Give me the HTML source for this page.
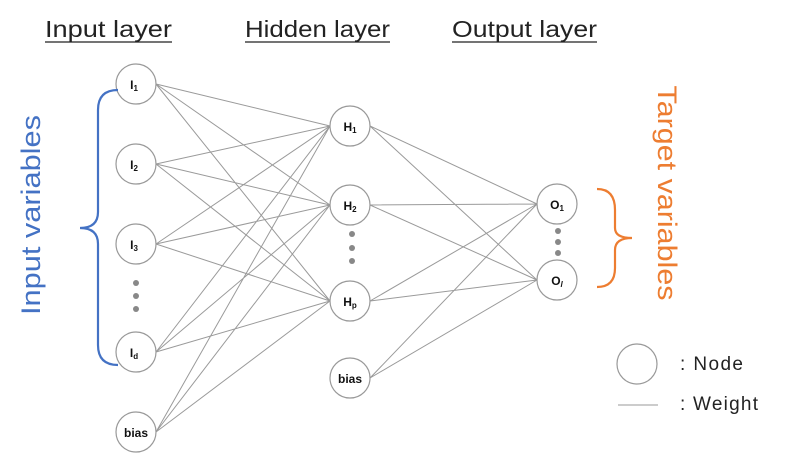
<!DOCTYPE html>
<html><head><style>
body{margin:0;background:#fff;}
svg text{font-family:"Liberation Sans",sans-serif;}
</style></head><body>
<svg width="787" height="465" viewBox="0 0 787 465" xmlns="http://www.w3.org/2000/svg">
<g font-size="23" fill="#222">
<text x="45" y="37" textLength="127" lengthAdjust="spacingAndGlyphs">Input layer</text>
<text x="245" y="37" textLength="145" lengthAdjust="spacingAndGlyphs">Hidden layer</text>
<text x="452" y="37" textLength="145" lengthAdjust="spacingAndGlyphs">Output layer</text>
</g>
<line x1="45" y1="42" x2="172" y2="42" stroke="#222" stroke-width="1.3"/>
<line x1="245" y1="42" x2="390" y2="42" stroke="#222" stroke-width="1.3"/>
<line x1="452" y1="42" x2="597" y2="42" stroke="#222" stroke-width="1.3"/>
<g stroke="#9a9a9a" stroke-width="1">
<path d="M156 84L330 126M156 84L330 205M156 84L330 301
M156 164L330 126M156 164L330 205M156 164L330 301
M156 244L330 126M156 244L330 205M156 244L330 301
M156 352L330 126M156 352L330 205M156 352L330 301
M156 432L330 126M156 432L330 205M156 432L330 301
M370 126L537 204M370 126L537 280
M370 205L537 204M370 205L537 280
M370 301L537 204M370 301L537 280
M370 378L537 204M370 378L537 280"/>
<line x1="618" y1="405" x2="658" y2="405"/>
</g>
<g fill="#fff" stroke="#999" stroke-width="1.2">
<circle cx="136" cy="84" r="20"/><circle cx="136" cy="164" r="20"/><circle cx="136" cy="244" r="20"/><circle cx="136" cy="352" r="20"/><circle cx="136" cy="432" r="20"/>
<circle cx="350" cy="126" r="20"/><circle cx="350" cy="205" r="20"/><circle cx="350" cy="301" r="20"/><circle cx="350" cy="378" r="20"/>
<circle cx="557" cy="204" r="20"/><circle cx="557" cy="280" r="20"/>
<circle cx="637" cy="364" r="20"/>
</g>
<g fill="#888">
<circle cx="136" cy="283" r="3"/><circle cx="136" cy="296" r="3"/><circle cx="136" cy="309" r="3"/>
<circle cx="352" cy="234" r="3"/><circle cx="352" cy="248" r="3"/><circle cx="352" cy="261" r="3"/>
<circle cx="558" cy="231" r="3"/><circle cx="558" cy="242" r="3"/><circle cx="558" cy="253" r="3"/>
</g>
<g font-size="12" font-weight="bold" fill="#111" text-anchor="middle">
<text x="134" y="89">I<tspan font-size="8" dy="2">1</tspan></text>
<text x="134" y="169">I<tspan font-size="8" dy="2">2</tspan></text>
<text x="134" y="249">I<tspan font-size="8" dy="2">3</tspan></text>
<text x="134" y="357">I<tspan font-size="8" dy="2">d</tspan></text>
<text x="136" y="437">bias</text>
<text x="350" y="131">H<tspan font-size="8" dy="2">1</tspan></text>
<text x="350" y="210">H<tspan font-size="8" dy="2">2</tspan></text>
<text x="350" y="306">H<tspan font-size="8" dy="2">p</tspan></text>
<text x="350" y="383">bias</text>
<text x="557" y="209">O<tspan font-size="8" dy="2">1</tspan></text>
<text x="557" y="285">O<tspan font-size="8" dy="2" font-style="italic">l</tspan></text>
</g>
<path d="M118 90 Q98 90 98 110 L98 212 Q98 228 80 228 Q98 228 98 244 L98 345 Q98 365 118 365" fill="none" stroke="#4472C4" stroke-width="2.2"/>
<text transform="translate(40,215) rotate(-90)" font-size="27" fill="#4472C4" text-anchor="middle" textLength="200" lengthAdjust="spacingAndGlyphs">Input variables</text>
<path d="M597 189 Q615 189 615 210 L615 228 Q615 238 632 238 Q615 238 615 250 L615 268 Q615 287 597 287" fill="none" stroke="#ED7D31" stroke-width="2.2"/>
<text transform="translate(658,193) rotate(90)" font-size="27" fill="#ED7D31" text-anchor="middle" textLength="215" lengthAdjust="spacingAndGlyphs">Target variables</text>
<g font-size="19" fill="#222">
<text x="680" y="370" textLength="63">: Node</text>
<text x="680" y="410" textLength="78">: Weight</text>
</g>
</svg>
</body></html>
